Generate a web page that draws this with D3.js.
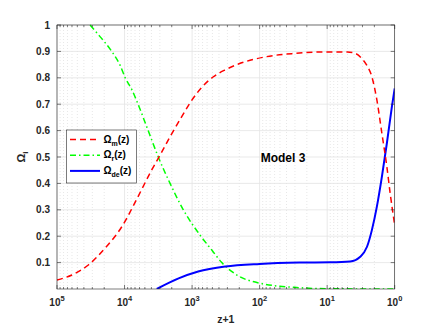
<!DOCTYPE html>
<html>
<head>
<meta charset="utf-8">
<script src="https://cdn.jsdelivr.net/npm/d3@7"></script>
<style>
  body { margin: 0; background: #fff; }
  text { font-family: "Liberation Sans", Arial, sans-serif; }
</style>
</head>
<body>
<div id="container"></div>
<script>
// log10(z+1) positions and Omega values
const mLog = [5.0, 4.78, 4.536, 4.29, 4.04, 3.80, 3.60, 3.474, 3.326, 3.153, 3.03, 2.856, 2.684, 2.51, 2.314, 1.90, 1.5, 1.01, 0.70, 0.58, 0.49, 0.41, 0.338, 0.264, 0.19, 0.116, 0.067, 0.0];
const mVal = [0.034, 0.053, 0.091, 0.154, 0.236, 0.35, 0.45, 0.507, 0.577, 0.653, 0.705, 0.764, 0.804, 0.83, 0.852, 0.88, 0.892, 0.898, 0.898, 0.892, 0.874, 0.846, 0.804, 0.716, 0.59, 0.463, 0.362, 0.242];

const rLog = [4.51, 4.363, 4.19, 4.067, 3.99, 3.89, 3.80, 3.65, 3.50, 3.326, 3.13, 2.87, 2.70, 2.56, 2.35, 2.0, 1.41, 1.0, 0.0];
const rVal = [1.0, 0.956, 0.90, 0.848, 0.80, 0.754, 0.70, 0.60, 0.50, 0.40, 0.30, 0.20, 0.145, 0.10, 0.055, 0.022, 0.005, 0.001, 0.0];

const deLog = [3.523, 3.20, 2.91, 2.51, 2.0, 1.41, 0.956, 0.66, 0.51, 0.41, 0.338, 0.264, 0.19, 0.116, 0.042, 0.0];
const deVal = [0.0, 0.04, 0.066, 0.085, 0.095, 0.10, 0.101, 0.104, 0.122, 0.16, 0.223, 0.312, 0.425, 0.552, 0.69, 0.76];

const xExp = [5, 4, 3, 2, 1, 0];
const yTicks = [0.1, 0.2, 0.3, 0.4, 0.5, 0.6, 0.7, 0.8, 0.9, 1];

const width = 436, height = 327;
const m = { left: 57, right: 41.3, top: 25, bottom: 38 };
const axisColor = "#262626";

const svg = d3.select("#container").append("svg")
  .attr("width", width)
  .attr("height", height);

const x = d3.scaleLog().domain([1e5, 1]).range([m.left, width - m.right]);
const y = d3.scaleLinear().domain([0, 1]).range([height - m.bottom, m.top]);

const x0 = m.left, x1 = width - m.right, y0 = height - m.bottom, y1 = m.top;

// minor positions 2..9 per decade
const minor = [];
for (let e = 0; e < 5; e++) {
  for (let k = 2; k <= 9; k++) minor.push(k * Math.pow(10, e));
}

const grid = svg.append("g");
grid.selectAll("line.minor")
  .data(minor)
  .join("line")
  .attr("x1", (d) => x(d)).attr("x2", (d) => x(d))
  .attr("y1", y0).attr("y2", y1)
  .attr("stroke", "#d6d6d6")
  .attr("stroke-width", 0.6)
  .attr("stroke-dasharray", "1,2");
grid.selectAll("line.vmaj")
  .data(xExp)
  .join("line")
  .attr("x1", (d) => x(Math.pow(10, d))).attr("x2", (d) => x(Math.pow(10, d)))
  .attr("y1", y0).attr("y2", y1)
  .attr("stroke", "#e3e3e3")
  .attr("stroke-width", 0.8);
grid.selectAll("line.hmaj")
  .data(yTicks)
  .join("line")
  .attr("x1", x0).attr("x2", x1)
  .attr("y1", (d) => y(d)).attr("y2", (d) => y(d))
  .attr("stroke", "#e3e3e3")
  .attr("stroke-width", 0.8);

// curves
const line = (lg, vals) => d3.line()
  .x((d, i) => x(Math.pow(10, lg[i])))
  .y((d) => y(d))
  .curve(d3.curveMonotoneX)(vals);

svg.append("clipPath").attr("id", "plotclip")
  .append("rect").attr("x", x0).attr("y", y1 - 1).attr("width", x1 - x0).attr("height", y0 - y1 + 1);

const plot = svg.append("g").attr("clip-path", "url(#plotclip)");
plot.append("path")
  .attr("d", line(rLog, rVal))
  .attr("fill", "none").attr("stroke", "#00ff00").attr("stroke-width", 1.5)
  .attr("stroke-dasharray", "6,3,1.5,3");
plot.append("path")
  .attr("d", line(deLog, deVal))
  .attr("fill", "none").attr("stroke", "#0000ff").attr("stroke-width", 2);
plot.append("path")
  .attr("d", line(mLog, mVal))
  .attr("fill", "none").attr("stroke", "#ff0000").attr("stroke-width", 1.5)
  .attr("stroke-dasharray", "6,4");

// box and ticks
const ax = svg.append("g").attr("stroke", axisColor).attr("stroke-width", 0.6);
ax.append("rect")
  .attr("x", x0).attr("y", y1).attr("width", x1 - x0).attr("height", y0 - y1)
  .attr("fill", "none");
xExp.forEach((e) => {
  const px = x(Math.pow(10, e));
  ax.append("line").attr("x1", px).attr("x2", px).attr("y1", y0).attr("y2", y0 - 4);
  ax.append("line").attr("x1", px).attr("x2", px).attr("y1", y1).attr("y2", y1 + 4);
});
minor.forEach((d) => {
  const px = x(d);
  ax.append("line").attr("x1", px).attr("x2", px).attr("y1", y0).attr("y2", y0 - 2);
  ax.append("line").attr("x1", px).attr("x2", px).attr("y1", y1).attr("y2", y1 + 2);
});
yTicks.forEach((d) => {
  const py = y(d);
  ax.append("line").attr("x1", x0).attr("x2", x0 + 4).attr("y1", py).attr("y2", py);
  ax.append("line").attr("x1", x1).attr("x2", x1 - 4).attr("y1", py).attr("y2", py);
});

// tick labels
svg.append("g").selectAll("text")
  .data(yTicks)
  .join("text")
  .attr("x", x0 - 7)
  .attr("y", (d) => y(d) + 3.5)
  .attr("text-anchor", "end")
  .attr("font-size", 10)
  .attr("font-weight", "bold")
  .attr("fill", axisColor)
  .text((d) => d === 1 ? "1" : d.toFixed(1));

const xl = svg.append("g").selectAll("text")
  .data(xExp)
  .join("text")
  .attr("x", (d) => x(Math.pow(10, d)))
  .attr("y", y0 + 17)
  .attr("text-anchor", "middle")
  .attr("font-size", 10)
  .attr("font-weight", "bold")
  .attr("fill", axisColor);
xl.append("tspan").text("10");
xl.append("tspan").attr("dy", -5).attr("font-size", 7.5).text((d) => d);

svg.append("text")
  .attr("x", (x0 + x1) / 2)
  .attr("y", 323)
  .attr("text-anchor", "middle")
  .attr("font-size", 10.5)
  .attr("font-weight", "bold")
  .attr("fill", axisColor)
  .text("z+1");

const yl = svg.append("text")
  .attr("transform", "translate(25,157) rotate(-90)")
  .attr("text-anchor", "middle")
  .attr("font-size", 11)
  .attr("font-weight", "bold")
  .attr("fill", axisColor);
yl.append("tspan").text("Ω");
yl.append("tspan").attr("dy", 3).attr("font-size", 8).text("i");

svg.append("text")
  .attr("x", 283)
  .attr("y", 162)
  .attr("text-anchor", "middle")
  .attr("font-size", 12)
  .attr("font-weight", "bold")
  .attr("fill", "#000")
  .text("Model 3");

// legend
const legendItems = [
  { sub: "m", color: "#ff0000", dash: "6,4", w: 1.5 },
  { sub: "r", color: "#00ff00", dash: "6,3,1.5,3", w: 1.5 },
  { sub: "de", color: "#0000ff", dash: null, w: 2 },
];
const lg = svg.append("g");
lg.append("rect")
  .attr("x", 66.5).attr("y", 130).attr("width", 70).attr("height", 53)
  .attr("fill", "#fff").attr("stroke", axisColor).attr("stroke-width", 0.6);
legendItems.forEach((it, i) => {
  const ly = 139.5 + i * 15.7;
  lg.append("line")
    .attr("x1", 70).attr("x2", 100).attr("y1", ly).attr("y2", ly)
    .attr("stroke", it.color).attr("stroke-width", it.w)
    .attr("stroke-dasharray", it.dash);
  const t = lg.append("text")
    .attr("x", 103.5).attr("y", ly + 3)
    .attr("font-size", 10)
    .attr("font-weight", "bold")
    .attr("fill", "#000");
  t.append("tspan").text("Ω");
  t.append("tspan").attr("dy", 3).attr("font-size", 7).text(it.sub);
  t.append("tspan").attr("dy", -3).text("(z)");
});
</script>
</body>
</html>
